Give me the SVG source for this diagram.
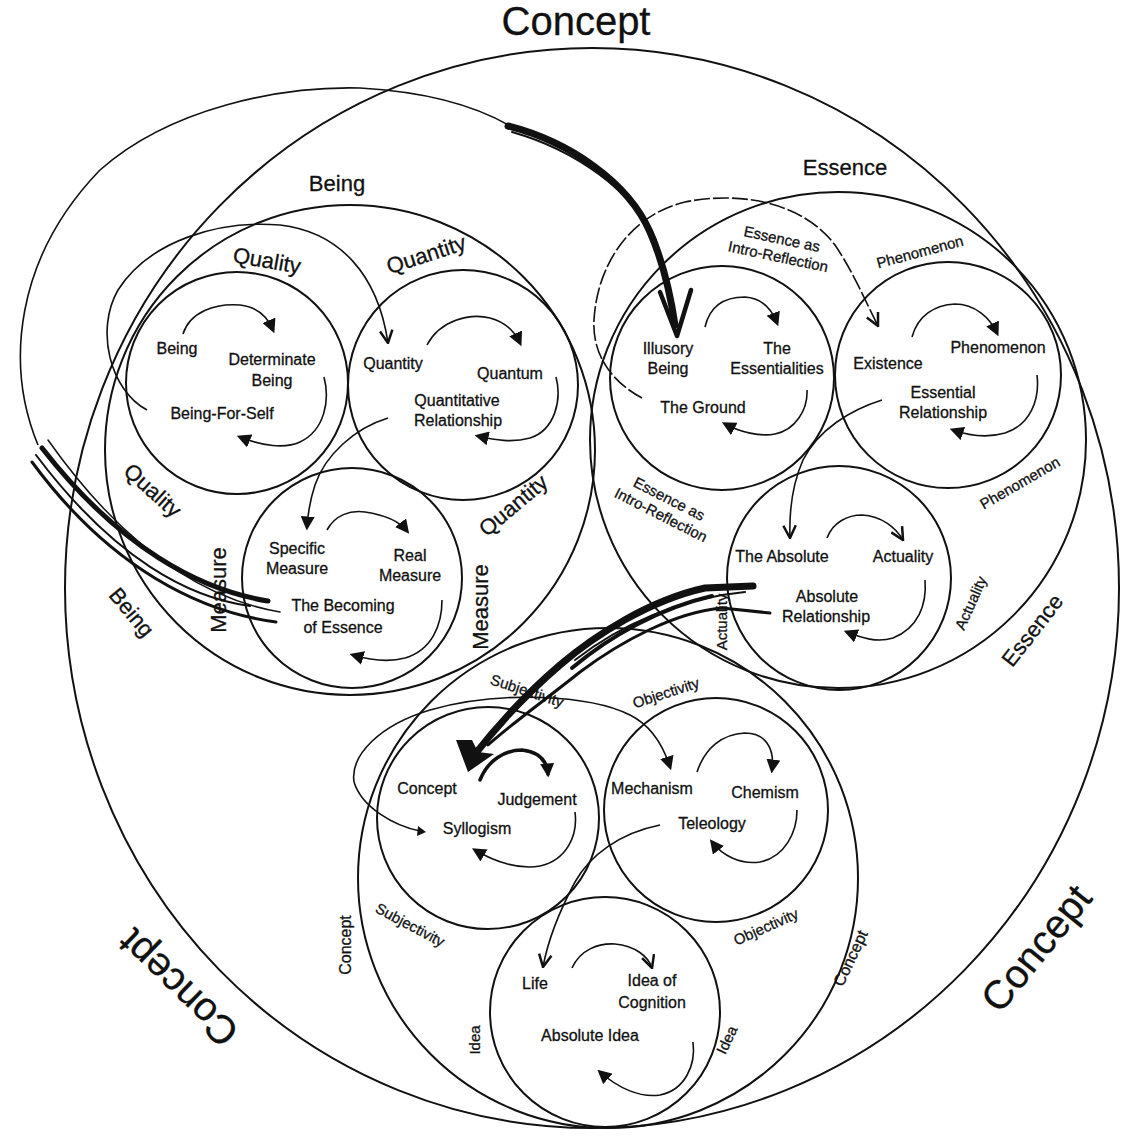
<svg xmlns="http://www.w3.org/2000/svg" width="1122" height="1141" viewBox="0 0 1122 1141">
<style>
.c{fill:none;stroke:#111;stroke-width:2}
.k{fill:none;stroke:#111;stroke-width:1.6}
.h{fill:none;stroke:#111;stroke-linecap:round}
text{font-family:"Liberation Sans",Arial,sans-serif;fill:#111;stroke:#111;stroke-width:0.3;text-anchor:middle}
.n{font-size:16px}
.m{font-size:15px}
.l{font-size:22px}
.x{font-size:40px}
.ar{marker-end:url(#tri)}
.av{marker-end:url(#vee)}
</style>
<defs>
<marker id="tri" viewBox="0 0 12 12" refX="9" refY="6" markerWidth="14" markerHeight="14" markerUnits="userSpaceOnUse" orient="auto"><path d="M0,0 L12,6 L0,12 Z" fill="#111"/></marker>
<marker id="vee" viewBox="0 0 12 12" refX="11" refY="6" markerWidth="15" markerHeight="15" markerUnits="userSpaceOnUse" orient="auto"><path d="M1,1 L11,6 L1,11" fill="none" stroke="#111" stroke-width="2"/></marker>
</defs>
<rect width="1122" height="1141" fill="#fff"/>

<g id="concept-outer">
<ellipse class="c" cx="592" cy="588" rx="527" ry="540"/>
<text class="x" x="576" y="35">Concept</text>
<text class="x" transform="translate(178,988) rotate(-136)" y="14">Concept</text>
<text class="x" transform="translate(1036,948) rotate(-51)" y="14">Concept</text>
</g>

<g id="being">
<circle class="c" cx="350" cy="450" r="245"/>
<text class="l" x="337" y="191">Being</text>
<text class="l" transform="translate(132,612) rotate(50)" y="8">Being</text>
</g>
<g id="quality">
<circle class="c" cx="237" cy="383" r="111"/>
<text class="l" transform="translate(267,260) rotate(10)" y="8">Quality</text>
<text class="l" transform="translate(153,490) rotate(42)" y="8">Quality</text>
<text class="n" x="177" y="354">Being</text>
<text class="n" x="272" y="365">Determinate</text>
<text class="n" x="272" y="386">Being</text>
<text class="n" x="222" y="419">Being-For-Self</text>
</g>
<g id="quantity">
<circle class="c" cx="463" cy="385" r="115"/>
<text class="l" transform="translate(426,254) rotate(-18)" y="8">Quantity</text>
<text class="l" transform="translate(513,505) rotate(-40)" y="8">Quantity</text>
<text class="n" x="393" y="369">Quantity</text>
<text class="n" x="510" y="379">Quantum</text>
<text class="n" x="457" y="406">Quantitative</text>
<text class="n" x="458" y="426">Relationship</text>
</g>
<g id="measure">
<circle class="c" cx="352" cy="578" r="110"/>
<text class="l" transform="translate(218,590) rotate(-90)" y="8">Measure</text>
<text class="l" transform="translate(480,607) rotate(-90)" y="8">Measure</text>
<text class="n" x="297" y="554">Specific</text>
<text class="n" x="297" y="574">Measure</text>
<text class="n" x="410" y="561">Real</text>
<text class="n" x="410" y="581">Measure</text>
<text class="n" x="343" y="611">The Becoming</text>
<text class="n" x="343" y="633">of Essence</text>
</g>

<g id="essence">
<circle class="c" cx="838" cy="440" r="248"/>
<text class="l" x="845" y="175">Essence</text>
<text class="l" transform="translate(1032,630) rotate(-52)" y="8">Essence</text>
</g>
<g id="intro-reflection">
<circle class="c" cx="722" cy="378" r="112"/>
<text class="m" transform="translate(780,248) rotate(12)"><tspan x="0" y="-4">Essence as</tspan><tspan x="0" y="14">Intro-Reflection</tspan></text>
<text class="m" transform="translate(665,507) rotate(27)"><tspan x="0" y="-4">Essence as</tspan><tspan x="0" y="14">Intro-Reflection</tspan></text>
<text class="n" x="668" y="354">Illusory</text>
<text class="n" x="668" y="374">Being</text>
<text class="n" x="777" y="354">The</text>
<text class="n" x="777" y="374">Essentialities</text>
<text class="n" x="703" y="413">The Ground</text>
</g>
<g id="phenomenon">
<circle class="c" cx="948" cy="375" r="113"/>
<text class="m" transform="translate(920,252) rotate(-15)" y="5">Phenomenon</text>
<text class="m" transform="translate(1020,483) rotate(-30)" y="5">Phenomenon</text>
<text class="n" x="888" y="369">Existence</text>
<text class="n" x="998" y="353">Phenomenon</text>
<text class="n" x="943" y="398">Essential</text>
<text class="n" x="943" y="418">Relationship</text>
</g>
<g id="actuality">
<circle class="c" cx="839" cy="578" r="112"/>
<text class="m" transform="translate(722,622) rotate(-90)" y="5">Actuality</text>
<text class="m" transform="translate(971,603) rotate(-66)" y="5">Actuality</text>
<text class="n" x="782" y="562">The Absolute</text>
<text class="n" x="903" y="562">Actuality</text>
<text class="n" x="827" y="602">Absolute</text>
<text class="n" x="826" y="622">Relationship</text>
</g>

<g id="concept">
<circle class="c" cx="608" cy="878" r="250"/>
<text class="n" transform="translate(345,945) rotate(-90)" y="6">Concept</text>
<text class="n" transform="translate(850,958) rotate(-65)" y="6">Concept</text>
</g>
<g id="subjectivity">
<circle class="c" cx="488" cy="818" r="111"/>
<text class="m" transform="translate(527,691) rotate(18)" y="5">Subjectivity</text>
<text class="m" transform="translate(410,925) rotate(28)" y="5">Subjectivity</text>
<text class="n" x="427" y="794">Concept</text>
<text class="n" x="537" y="805">Judgement</text>
<text class="n" x="477" y="834">Syllogism</text>
</g>
<g id="objectivity">
<circle class="c" cx="716" cy="810" r="112"/>
<text class="m" transform="translate(666,693) rotate(-18)" y="5">Objectivity</text>
<text class="m" transform="translate(766,927) rotate(-24)" y="5">Objectivity</text>
<text class="n" x="652" y="794">Mechanism</text>
<text class="n" x="765" y="798">Chemism</text>
<text class="n" x="712" y="829">Teleology</text>
</g>
<g id="idea">
<circle class="c" cx="605" cy="1012" r="115"/>
<text class="m" transform="translate(475,1040) rotate(-90)" y="5">Idea</text>
<text class="m" transform="translate(727,1040) rotate(-65)" y="5">Idea</text>
<text class="n" x="535" y="989">Life</text>
<text class="n" x="652" y="986">Idea of</text>
<text class="n" x="652" y="1008">Cognition</text>
<text class="n" x="590" y="1041">Absolute Idea</text>
</g>

<g id="connectors">
<path class="k ar" d="M183,334 C190,312 215,303 240,305 C258,307 268,318 273,330"/>
<path class="k ar" d="M324,377 C330,400 325,430 300,442 C285,449 262,446 240,437"/>
<path class="k av" d="M147,410 C110,390 95,330 118,290 C150,240 220,220 280,225 C340,232 378,275 388,343"/>
<path class="k ar" d="M427,345 C440,320 470,313 490,318 C505,322 515,332 520,343"/>
<path class="k ar" d="M556,377 C562,400 555,430 530,438 C512,443 495,440 478,436"/>
<path class="k ar" d="M388,418 C355,428 325,455 315,485 C310,500 308,512 307,527"/>
<path class="k ar" d="M327,530 C335,515 350,510 365,512 C385,515 400,522 407,531"/>
<path class="k ar" d="M442,600 C442,625 432,650 405,658 C390,662 370,660 353,655"/>

<path class="h" stroke-width="5" d="M268,601 C200,590 120,548 42,448"/>
<path class="h" stroke-width="3" d="M276,622 C200,612 110,568 32,462"/>
<path class="h" stroke-width="2" d="M250,606 C190,598 115,560 36,455"/>
<path class="h" stroke-width="1.5" d="M280,612 C210,600 130,556 48,440"/>
<path class="k" d="M38,445 C5,365 15,258 100,170 C170,108 280,86 360,88 C430,92 480,108 512,127"/>
<path class="h" stroke-width="7" d="M508,126 C570,142 628,182 650,232 C664,264 671,298 675,325"/>
<path class="h" stroke-width="2" d="M512,132 C575,150 632,190 656,240"/>
<path class="h" stroke-width="4.5" stroke-linejoin="round" d="M660,292 L677,336 L691,290"/>

<path class="k ar" d="M705,327 C710,305 725,297 745,297 C762,298 772,310 777,323"/>
<path class="k ar" d="M807,390 C808,410 795,430 775,434 C760,437 740,432 725,424"/>
<path class="k av" stroke-width="1.3" stroke-dasharray="16 3" d="M642,398 C612,382 592,355 594,320 C597,265 630,215 685,202 C745,190 805,205 835,245 C852,270 865,300 878,326"/>
<path class="k ar" d="M912,337 C918,315 935,305 955,304 C975,304 990,318 997,333"/>
<path class="k ar" stroke-width="2.4" d="M1037,375 C1040,400 1030,425 1005,433 C988,438 970,436 953,430"/>
<path class="k av" d="M882,400 C850,410 818,430 803,460 C792,485 789,510 790,538"/>
<path class="k av" d="M827,538 C833,522 848,515 862,515 C882,516 896,528 903,540"/>
<path class="k ar" d="M925,580 C927,605 918,628 893,638 C877,643 862,638 847,632"/>

<path class="h" stroke-width="7" d="M753,586 L705,588 C650,600 595,635 560,665 C525,695 495,728 472,758"/>
<path class="h" stroke-width="4" d="M712,596 C660,608 610,636 572,668"/>
<path class="h" stroke-width="3" d="M770,613 L722,608 C675,612 620,642 580,672 C545,700 510,725 488,745"/>
<path class="h" stroke-width="2" d="M745,592 C680,598 620,625 575,660"/>
<path fill="#111" d="M456,740 L468,772 L494,754 L478,752 L472,740 Z"/>

<path class="h ar" stroke-width="3.5" d="M480,780 C488,760 505,750 522,750 C540,752 547,762 548,774"/>
<path class="k ar" d="M575,812 C578,835 567,860 540,866 C520,870 495,862 475,850"/>
<path class="k ar" d="M354,782 C350,755 380,725 430,710 C500,690 590,695 630,715 C650,725 663,745 670,767"/>
<path class="k" d="M420,831 C395,826 362,808 354,782"/>
<path fill="#111" d="M418,826 L426,832 L417,836 Z"/>
<path class="k ar" d="M697,772 C705,748 722,734 745,733 C765,733 775,748 772,770"/>
<path class="k ar" d="M797,810 C797,832 785,857 760,862 C740,865 722,855 712,842"/>
<path class="k av" d="M660,825 C620,833 590,855 575,882 C560,910 548,940 543,967"/>
<path class="k av" d="M572,968 C580,950 598,943 615,944 C635,946 648,956 652,968"/>
<path class="k ar" d="M693,1042 C696,1065 685,1090 660,1095 C640,1098 618,1088 600,1072"/>
</g>
</svg>
